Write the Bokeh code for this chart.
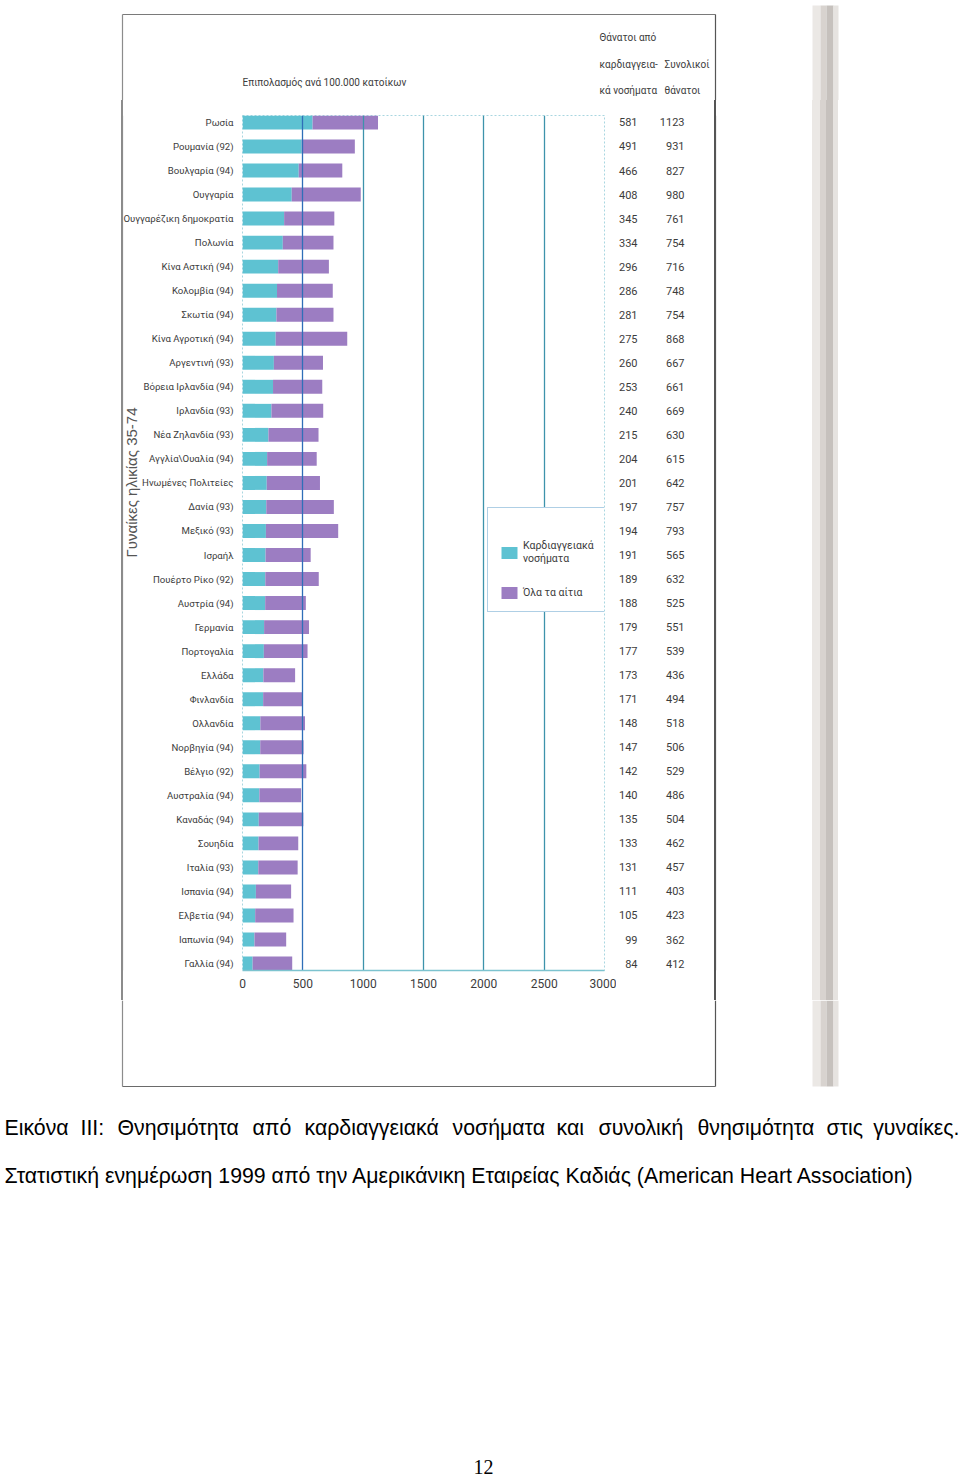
from bokeh.plotting import figure
from bokeh.layouts import column, row
from bokeh.models import Range1d, FixedTicker, ColumnDataSource, Legend, LegendItem, Grid
from bokeh.core.properties import value
from bokeh.embed import file_html
from bokeh.resources import INLINE

# ---------------- data ----------------
countries = ["Ρωσία", "Ρουμανία (92)", "Βουλγαρία (94)", "Ουγγαρία", "Ουγγαρέζικη δημοκρατία",
             "Πολωνία", "Κίνα Αστική (94)", "Κολομβία (94)", "Σκωτία (94)", "Κίνα Αγροτική (94)",
             "Αργεντινή (93)", "Βόρεια Ιρλανδία (94)", "Ιρλανδία (93)", "Νέα Ζηλανδία (93)",
             "Αγγλία\\Ουαλία (94)", "Ηνωμένες Πολιτείες", "Δανία (93)", "Μεξικό (93)", "Ισραήλ",
             "Πουέρτο Ρίκο (92)", "Αυστρία (94)", "Γερμανία", "Πορτογαλία", "Ελλάδα", "Φινλανδία",
             "Ολλανδία", "Νορβηγία (94)", "Βέλγιο (92)", "Αυστραλία (94)", "Καναδάς (94)",
             "Σουηδία", "Ιταλία (93)", "Ισπανία (94)", "Ελβετία (94)", "Ιαπωνία (94)", "Γαλλία (94)"]
cvd = [581, 491, 466, 408, 345, 334, 296, 286, 281, 275, 260, 253, 240, 215, 204, 201, 197, 194,
       191, 189, 188, 179, 177, 173, 171, 148, 147, 142, 140, 135, 133, 131, 111, 105, 99, 84]
total = [1123, 931, 827, 980, 761, 754, 716, 748, 754, 868, 667, 661, 669, 630, 615, 642, 757, 793,
         565, 632, 525, 551, 539, 436, 494, 518, 506, 529, 486, 504, 462, 457, 403, 423, 362, 412]
x_ticks = [0, 500, 1000, 1500, 2000, 2500, 3000]

rate_title = "Επιπολασμός ανά 100.000 κατοίκων"
y_title = "Γυναίκες ηλικίας 35-74"
col1_head = ["Θάνατοι από", "καρδιαγγεια-", "κά νοσήματα"]
col2_head = ["Συνολικοί", "θάνατοι"]
legend_labels = ["Καρδιαγγειακά\nνοσήματα", "Όλα τα αίτια"]
caption1_words = ["Εικόνα", "ΙΙΙ:", "Θνησιμότητα", "από", "καρδιαγγειακά", "νοσήματα", "και",
                  "συνολική", "θνησιμότητα", "στις", "γυναίκες."]
caption2 = "Στατιστική ενημέρωση 1999 από την Αμερικάνικη Εταιρείας Καδιάς (American Heart Association)"
page_no = "12"

# ---------------- layout constants (page pixels) ----------------
FONT = "Roboto"
SANS = "Liberation Sans"
TXT = "#3c3c3c"
CYAN = "#5ec2d2"
PURPLE = "#9c7dc2"
PAGE_W = 960
TOP_H = 100              # top strip: y 0..100
MID_B = 1000             # middle strip: y 100..1000
BOT_B = 1476             # bottom strip: y 1000..1476
LEFT_W = 236             # left panel: x 0..236
CHART_R = 616            # chart canvas: x 236..616
FL, FR, FT, FB = 242, 604, 115, 970       # chart frame edges
Y0, Y1 = -0.29, 35.29                      # row range at frame top / bottom
BORDER_L, BORDER_R, BORDER_T, BORDER_B = 122, 715, 14, 1086
LCOL, RCOL = "#8c8c8c", "#555555"
SHADOW = [(812, 820, "#ebe8e5"), (820, 826, "#d8d3cf"), (826, 833, "#c6c1bd"), (833, 838, "#e6e3e0")]
caption1_x = [4, 80, 117, 252, 304, 452, 556, 598, 697, 826, 959]
caption1_align = ["left"] * 10 + ["right"]


def row_at(py):
    return Y0 + (py - FT) / (FB - FT) * (Y1 - Y0)


def stripes(x0, items):
    """CSS background with hard vertical stripes (page-x ranges) for a panel starting at x0."""
    stops = ["white 0px"]
    for a, b, c in items:
        stops += [f"white {a - x0}px", f"{c} {a - x0}px", f"{c} {b - x0}px", f"white {b - x0}px"]
    stops.append("white 100%")
    return "linear-gradient(to right, " + ", ".join(stops) + ")"


def aux(x0, x1, y_top, y_bot):
    f = figure(width=x1 - x0, height=y_bot - y_top, x_range=Range1d(x0, x1),
               y_range=Range1d(y_bot, y_top), output_backend="svg", toolbar_location=None,
               x_axis_location=None, y_axis_location=None, min_border=0, outline_line_color=None,
               background_fill_color="white", border_fill_color="white")
    f.grid.visible = False
    return f


def side(x0, x1, yr, css):
    f = figure(width=x1 - x0, height=MID_B - TOP_H, x_range=Range1d(x0, x1), y_range=yr,
               output_backend="svg", toolbar_location=None, x_axis_location=None,
               y_axis_location=None, min_border_left=0, min_border_right=0,
               min_border_top=FT - TOP_H, min_border_bottom=MID_B - FB,
               outline_line_color=None, background_fill_alpha=0, border_fill_alpha=0,
               styles={"background": css})
    f.grid.visible = False
    return f


def txt(f, x, y, t, size, align="left", font=FONT, color=TXT, angle=0.0):
    f.text(x=[x], y=[y], text=[t], text_font=value(font), text_font_size=value(size),
           text_align=align, text_baseline="middle", text_color=color, angle=angle)


rows = list(range(len(countries)))
src = ColumnDataSource(dict(row=rows, cvd=cvd, total=total, name=countries,
                            cvd_s=[str(v) for v in cvd], tot_s=[str(v) for v in total]))

# ---------------- top strip ----------------
ft = aux(0, PAGE_W, 0, TOP_H)
ft.segment(x0=[BORDER_L], y0=[BORDER_T], x1=[BORDER_R], y1=[BORDER_T], line_color="#7a7a7a", line_width=1.2)
ft.segment(x0=[BORDER_L], y0=[BORDER_T], x1=[BORDER_L], y1=[TOP_H], line_color=LCOL, line_width=1.2)
ft.segment(x0=[BORDER_R], y0=[BORDER_T], x1=[BORDER_R], y1=[TOP_H], line_color=RCOL, line_width=1.2)
for a, b, c in SHADOW:
    ft.quad(left=[a], right=[b], top=[5], bottom=[TOP_H], fill_color=c, line_color=None)
txt(ft, FL, 82, rate_title, "10px")
for t, py in zip(col1_head, [37, 64, 90]):
    txt(ft, 599, py, t, "10px")
for t, py in zip(col2_head, [64, 90]):
    txt(ft, 664, py, t, "10px")

# ---------------- chart ----------------
p = figure(width=CHART_R - LEFT_W, height=MID_B - TOP_H, output_backend="svg",
           toolbar_location=None, x_range=Range1d(0, 3000), y_range=Range1d(Y1, Y0),
           y_axis_location=None,
           min_border_left=FL - LEFT_W, min_border_right=CHART_R - FR,
           min_border_top=FT - TOP_H, min_border_bottom=MID_B - FB,
           background_fill_color="white", border_fill_color="white")
r_cvd = p.hbar(y="row", left=0, right="cvd", height=0.58, source=src,
               fill_color=CYAN, line_color=None, level="image")
r_tot = p.hbar(y="row", left="cvd", right="total", height=0.58, source=src,
               fill_color=PURPLE, line_color=None, level="image")
p.outline_line_color = "#a9d6e0"
p.outline_line_dash = "2 2"
p.ygrid.visible = False
p.xgrid.ticker = FixedTicker(ticks=[1000, 1500, 2000, 2500])
p.xgrid.grid_line_color = "#3d93ab"
p.xgrid.grid_line_width = 1.3
p.add_layout(Grid(dimension=0, ticker=FixedTicker(ticks=[500]), grid_line_color="#2f6fb8",
                  grid_line_width=1.3))
xa = p.xaxis[0]
xa.ticker = FixedTicker(ticks=x_ticks)
xa.axis_line_color = "#7cc3cf"
xa.axis_line_width = 1.5
xa.major_tick_line_color = None
xa.minor_tick_line_color = None
xa.major_tick_out = 0
xa.major_label_text_font = FONT
xa.major_label_text_font_size = "12px"
xa.major_label_text_color = TXT
xa.major_label_standoff = 8

leg = Legend(items=[LegendItem(label=legend_labels[0], renderers=[r_cvd]),
                    LegendItem(label=legend_labels[1], renderers=[r_tot])],
             location=(245, 358), orientation="vertical",
             title="\u00a0", title_text_font_size="12px", title_standoff=6,
             border_line_color="#5f9fcc", border_line_width=1.6,
             background_fill_color="white", background_fill_alpha=1,
             label_text_font=FONT, label_text_font_size="10.5px", label_text_color=TXT,
             glyph_width=20, glyph_height=15, spacing=20, padding=11, margin=0,
             label_standoff=4)
p.add_layout(leg)

# ---------------- left panel (names) ----------------
fl = side(0, LEFT_W, p.y_range, stripes(0, [(BORDER_L - 0.6, BORDER_L + 0.6, LCOL)]))
fl.segment(x0=[BORDER_L], y0=[Y0], x1=[BORDER_L], y1=[Y1], line_color=LCOL, line_width=1.2)
fl.text(x=FL - 9, y="row", text="name", source=src, text_font=value(FONT),
        text_font_size=value("9.6px"), text_align="right", text_baseline="middle", text_color=TXT)
txt(fl, 131, row_at(482), y_title, "15px", align="center", font=SANS, color="#555555",
    angle=1.5707963)

# ---------------- right panel (table) ----------------
fr = side(CHART_R, PAGE_W, p.y_range,
          stripes(CHART_R, [(BORDER_R - 0.6, BORDER_R + 0.6, RCOL)] + SHADOW))
fr.segment(x0=[BORDER_R], y0=[Y0], x1=[BORDER_R], y1=[Y1], line_color=RCOL, line_width=1.2)
fr.text(x=637, y="row", text="cvd_s", source=src, text_font=value(FONT),
        text_font_size=value("11px"), text_align="right", text_baseline="middle", text_color=TXT)
fr.text(x=684, y="row", text="tot_s", source=src, text_font=value(FONT),
        text_font_size=value("11px"), text_align="right", text_baseline="middle", text_color=TXT)

# ---------------- bottom strip ----------------
fb = aux(0, PAGE_W, MID_B, BOT_B)
fb.segment(x0=[BORDER_L], y0=[MID_B], x1=[BORDER_L], y1=[BORDER_B], line_color=LCOL, line_width=1.2)
fb.segment(x0=[BORDER_R], y0=[MID_B], x1=[BORDER_R], y1=[BORDER_B], line_color=RCOL, line_width=1.2)
fb.segment(x0=[BORDER_L], y0=[BORDER_B], x1=[BORDER_R], y1=[BORDER_B], line_color="#6a6a6a", line_width=1.2)
for a, b, c in SHADOW:
    fb.quad(left=[a], right=[b], top=[MID_B], bottom=[BORDER_B], fill_color=c, line_color=None)
for w, x, al in zip(caption1_words, caption1_x, caption1_align):
    txt(fb, x, 1127, w, "21.3px", align=al, font=SANS, color="black")
txt(fb, 4, 1175, caption2, "21.3px", font=SANS, color="black")
txt(fb, 483, 1466, page_no, "20px", align="center", font="Liberation Serif", color="black")

layout = column(ft, row(fl, p, fr), fb)
open("out.html", "w").write(file_html(layout, INLINE))
